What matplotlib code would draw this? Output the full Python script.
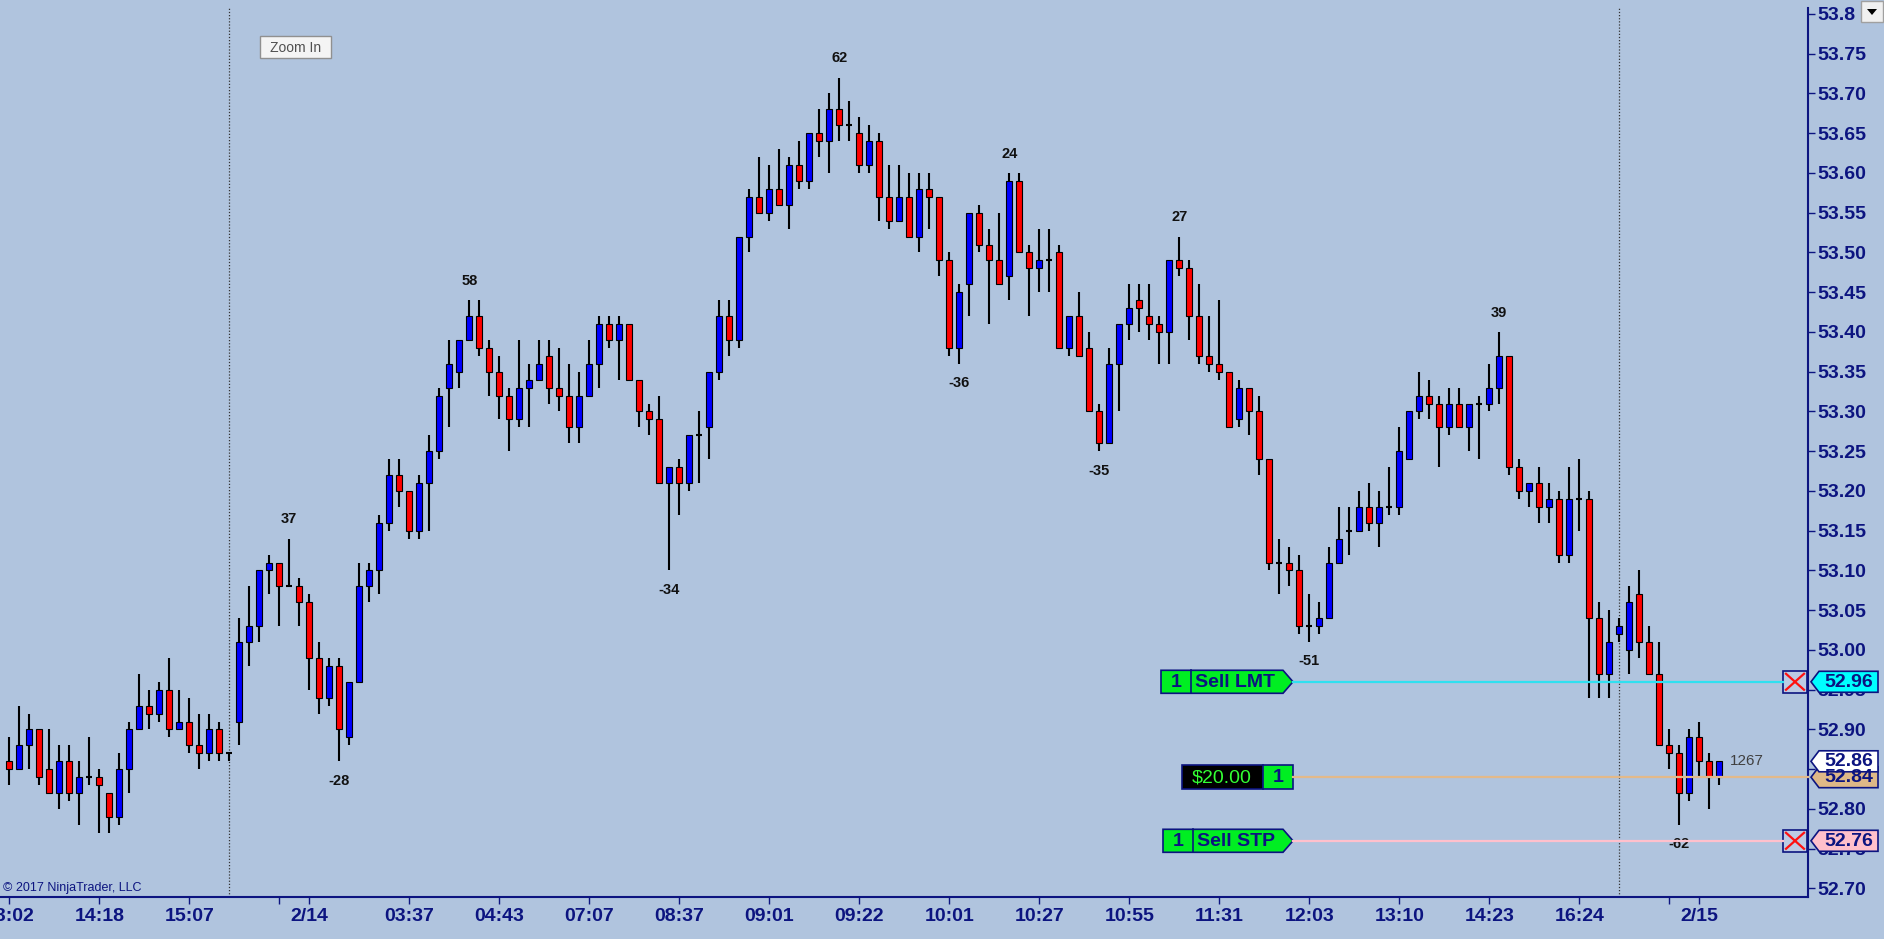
import numpy as np
import matplotlib
matplotlib.use("Agg")
import matplotlib.pyplot as plt
from matplotlib.patches import Polygon, Rectangle

plt.rcParams['font.family'] = ['Liberation Sans', 'DejaVu Sans']

# OHLC per bar (bar 1 .. 172)
opens = [52.86, 52.85, 52.88, 52.90, 52.85, 52.82, 52.86, 52.82, 52.84, 52.84,
         52.82, 52.79, 52.85, 52.90, 52.93, 52.92, 52.95, 52.90, 52.91, 52.88,
         52.87, 52.90, 52.87, 52.91, 53.01, 53.03, 53.10, 53.11, 53.08, 53.08,
         53.06, 52.99, 52.94, 52.98, 52.89, 52.96, 53.08, 53.10, 53.16, 53.22,
         53.20, 53.15, 53.21, 53.25, 53.33, 53.35, 53.39, 53.42, 53.38, 53.35,
         53.32, 53.29, 53.33, 53.34, 53.37, 53.33, 53.32, 53.28, 53.32, 53.36,
         53.41, 53.39, 53.41, 53.34, 53.30, 53.29, 53.21, 53.23, 53.21, 53.27,
         53.28, 53.35, 53.42, 53.39, 53.52, 53.57, 53.55, 53.58, 53.56, 53.61,
         53.59, 53.65, 53.64, 53.68, 53.66, 53.65, 53.61, 53.64, 53.57, 53.54,
         53.57, 53.52, 53.58, 53.57, 53.49, 53.38, 53.46, 53.55, 53.51, 53.49,
         53.47, 53.59, 53.50, 53.48, 53.49, 53.50, 53.38, 53.42, 53.38, 53.30,
         53.26, 53.36, 53.41, 53.44, 53.42, 53.41, 53.40, 53.49, 53.48, 53.42,
         53.37, 53.36, 53.35, 53.29, 53.33, 53.30, 53.24, 53.11, 53.11, 53.10,
         53.03, 53.03, 53.04, 53.11, 53.15, 53.15, 53.18, 53.16, 53.18, 53.18,
         53.24, 53.30, 53.32, 53.31, 53.28, 53.31, 53.28, 53.31, 53.31, 53.33,
         53.37, 53.23, 53.20, 53.21, 53.18, 53.19, 53.12, 53.19, 53.19, 53.04,
         52.97, 53.02, 53.00, 53.07, 53.01, 52.97, 52.88, 52.87, 52.82, 52.89,
         52.86, 52.84]
highs = [52.89, 52.93, 52.92, 52.90, 52.90, 52.88, 52.88, 52.86, 52.89, 52.85,
         52.82, 52.87, 52.91, 52.97, 52.95, 52.96, 52.99, 52.95, 52.94, 52.92,
         52.92, 52.91, 52.87, 53.04, 53.08, 53.10, 53.12, 53.11, 53.14, 53.09,
         53.07, 53.01, 52.99, 52.99, 52.96, 53.11, 53.11, 53.17, 53.24, 53.24,
         53.20, 53.22, 53.27, 53.33, 53.39, 53.39, 53.44, 53.44, 53.39, 53.37,
         53.33, 53.39, 53.36, 53.39, 53.39, 53.38, 53.36, 53.35, 53.39, 53.42,
         53.42, 53.42, 53.41, 53.34, 53.31, 53.32, 53.23, 53.24, 53.27, 53.30,
         53.35, 53.44, 53.44, 53.52, 53.58, 53.62, 53.61, 53.63, 53.62, 53.64,
         53.65, 53.68, 53.70, 53.72, 53.69, 53.67, 53.66, 53.65, 53.61, 53.61,
         53.60, 53.60, 53.60, 53.57, 53.50, 53.46, 53.55, 53.56, 53.53, 53.55,
         53.60, 53.60, 53.51, 53.53, 53.53, 53.51, 53.42, 53.45, 53.40, 53.31,
         53.38, 53.41, 53.46, 53.46, 53.46, 53.42, 53.49, 53.52, 53.49, 53.46,
         53.42, 53.44, 53.35, 53.34, 53.33, 53.32, 53.24, 53.14, 53.13, 53.12,
         53.07, 53.06, 53.13, 53.18, 53.18, 53.20, 53.21, 53.20, 53.23, 53.28,
         53.30, 53.35, 53.34, 53.32, 53.33, 53.33, 53.31, 53.32, 53.36, 53.40,
         53.37, 53.24, 53.21, 53.23, 53.21, 53.20, 53.23, 53.24, 53.20, 53.06,
         53.05, 53.04, 53.08, 53.10, 53.03, 53.01, 52.90, 52.88, 52.90, 52.91,
         52.87, 52.86]
lows = [52.83, 52.85, 52.85, 52.83, 52.82, 52.80, 52.81, 52.78, 52.83, 52.77,
        52.77, 52.78, 52.82, 52.90, 52.90, 52.91, 52.89, 52.90, 52.87, 52.85,
        52.86, 52.86, 52.86, 52.88, 52.98, 53.01, 53.07, 53.03, 53.08, 53.03,
        52.95, 52.92, 52.93, 52.86, 52.88, 52.96, 53.06, 53.07, 53.15, 53.18,
        53.14, 53.14, 53.15, 53.24, 53.28, 53.33, 53.39, 53.37, 53.32, 53.29,
        53.25, 53.28, 53.28, 53.34, 53.31, 53.30, 53.26, 53.26, 53.32, 53.33,
        53.38, 53.34, 53.34, 53.28, 53.27, 53.21, 53.10, 53.17, 53.20, 53.21,
        53.24, 53.34, 53.37, 53.38, 53.50, 53.55, 53.54, 53.56, 53.53, 53.58,
        53.58, 53.62, 53.60, 53.64, 53.64, 53.60, 53.60, 53.54, 53.53, 53.54,
        53.52, 53.50, 53.53, 53.47, 53.37, 53.36, 53.42, 53.50, 53.41, 53.46,
        53.44, 53.50, 53.42, 53.45, 53.45, 53.38, 53.37, 53.37, 53.30, 53.25,
        53.26, 53.30, 53.39, 53.40, 53.39, 53.36, 53.36, 53.47, 53.39, 53.36,
        53.35, 53.34, 53.28, 53.28, 53.27, 53.22, 53.10, 53.07, 53.08, 53.02,
        53.01, 53.02, 53.04, 53.11, 53.12, 53.15, 53.15, 53.13, 53.17, 53.17,
        53.24, 53.29, 53.29, 53.23, 53.27, 53.28, 53.25, 53.24, 53.30, 53.31,
        53.22, 53.19, 53.18, 53.16, 53.16, 53.11, 53.11, 53.15, 52.94, 52.94,
        52.94, 53.01, 52.97, 52.99, 52.97, 52.88, 52.85, 52.78, 52.81, 52.84,
        52.80, 52.83]
closes = [52.85, 52.88, 52.90, 52.84, 52.82, 52.86, 52.82, 52.84, 52.84, 52.83,
          52.79, 52.85, 52.90, 52.93, 52.92, 52.95, 52.90, 52.91, 52.88, 52.87,
          52.90, 52.87, 52.87, 53.01, 53.03, 53.10, 53.11, 53.08, 53.08, 53.06,
          52.99, 52.94, 52.98, 52.90, 52.96, 53.08, 53.10, 53.16, 53.22, 53.20,
          53.15, 53.21, 53.25, 53.32, 53.36, 53.39, 53.42, 53.38, 53.35, 53.32,
          53.29, 53.33, 53.34, 53.36, 53.33, 53.32, 53.28, 53.32, 53.36, 53.41,
          53.39, 53.41, 53.34, 53.30, 53.29, 53.21, 53.23, 53.21, 53.27, 53.27,
          53.35, 53.42, 53.39, 53.52, 53.57, 53.55, 53.58, 53.56, 53.61, 53.59,
          53.65, 53.64, 53.68, 53.66, 53.66, 53.61, 53.64, 53.57, 53.54, 53.57,
          53.52, 53.58, 53.57, 53.49, 53.38, 53.45, 53.55, 53.51, 53.49, 53.46,
          53.59, 53.50, 53.48, 53.49, 53.49, 53.38, 53.42, 53.37, 53.30, 53.26,
          53.36, 53.41, 53.43, 53.43, 53.41, 53.40, 53.49, 53.48, 53.42, 53.37,
          53.36, 53.35, 53.28, 53.33, 53.30, 53.24, 53.11, 53.11, 53.10, 53.03,
          53.03, 53.04, 53.11, 53.14, 53.15, 53.18, 53.16, 53.18, 53.18, 53.25,
          53.30, 53.32, 53.31, 53.28, 53.31, 53.28, 53.31, 53.31, 53.33, 53.37,
          53.23, 53.20, 53.21, 53.18, 53.19, 53.12, 53.19, 53.19, 53.04, 52.97,
          53.01, 53.03, 53.06, 53.01, 52.97, 52.88, 52.87, 52.82, 52.89, 52.86,
          52.84, 52.86]

# swing high/low labels (bar number, text)
swing_bars = [29, 34, 47, 67, 84, 96, 101, 110, 118, 131, 150, 168]
swing_text = ['37', '-28', '58', '-34', '62', '-36', '24', '-35', '27', '-51', '39', '-62']

# time axis
time_ticks = [1, 10, 19, 28, 31, 41, 50, 59, 68, 77, 86, 95, 104, 113, 122, 131,
              140, 149, 158, 167, 170]
time_labels = ['13:02', '14:18', '15:07', '', '2/14', '03:37', '04:43', '07:07', '08:37',
               '09:01', '09:22', '10:01', '10:27', '10:55', '11:31', '12:03', '13:10',
               '14:23', '16:24', '', '2/15']
session_breaks = [23, 162]
price_ticks = [52.70, 52.75, 52.80, 52.85, 52.90, 52.95, 53.00, 53.05, 53.10, 53.15,
               53.20, 53.25, 53.30, 53.35, 53.40, 53.45, 53.50, 53.55, 53.60, 53.65,
               53.70, 53.75, 53.80]

# orders / markers
limit_price = 52.96
stop_price = 52.76
entry_price = 52.84
last_price = 52.86
pnl_text = '$20.00'
qty = 1
tick_count = 1267

BG = '#b0c4de'
NAVY = '#0c1480'
W, H = 1884, 939

fig = plt.figure(figsize=(W / 100, H / 100), dpi=100, facecolor=BG)
ax = fig.add_axes([0, (H - 897) / H, 1808 / W, (897 - 8) / H])
ax.set_facecolor(BG)
ax.set_xlim(0.07, 180.87)
ax.set_ylim(52.6893, 53.8075)

o = np.array(opens); h = np.array(highs); l = np.array(lows); c = np.array(closes)
idx = np.arange(1, len(o) + 1)
up = c > o + 1e-9
dn = c < o - 1e-9
eq = ~(up | dn)

ax.vlines(idx, l, h, color='black', lw=1.5, zorder=2)
ax.bar(idx[up], (c - o)[up], bottom=o[up], width=0.58, color='#0000ff',
       edgecolor='black', lw=0.8, zorder=3)
ax.bar(idx[dn], (o - c)[dn], bottom=c[dn], width=0.58, color='#ff0000',
       edgecolor='black', lw=0.8, zorder=3)
ax.hlines(c[eq], idx[eq] - 0.3, idx[eq] + 0.3, color='black', lw=1.5, zorder=3)

for b, t in zip(swing_bars, swing_text):
    if t.startswith('-'):
        ax.annotate(t, (b, l[b - 1]), xytext=(0, -14), textcoords='offset points',
                    ha='center', va='center', fontsize=10.5, fontweight='bold', color='#111111')
    else:
        ax.annotate(t, (b, h[b - 1]), xytext=(0, 14), textcoords='offset points',
                    ha='center', va='center', fontsize=10.5, fontweight='bold', color='#111111')

for sb in session_breaks:
    ax.axvline(sb, color='#333333', lw=0.9, ls=(0, (1, 1.5)), zorder=1)

# axes styling
ax.spines['top'].set_visible(False)
ax.spines['left'].set_visible(False)
for s in ('bottom', 'right'):
    ax.spines[s].set_color(NAVY)
    ax.spines[s].set_linewidth(1.5)
ax.yaxis.tick_right()
ax.set_yticks(price_ticks)
ax.set_yticklabels(['53.8' if p == 53.80 else f'{p:.2f}' for p in price_ticks])
ax.set_xticks(time_ticks)
ax.set_xticklabels(time_labels)
ax.tick_params(axis='y', direction='out', length=5, width=1, color=NAVY,
               labelcolor=NAVY, labelsize=14, pad=2)
ax.tick_params(axis='x', direction='out', length=5, width=1, color=NAVY,
               labelcolor=NAVY, labelsize=14, pad=3)
for tl in ax.get_xticklabels() + ax.get_yticklabels():
    tl.set_fontweight('bold')

# overlay in pixel coordinates for the chart-trader widgets
ui = fig.add_axes([0, 0, 1, 1], zorder=5)
ui.set_xlim(0, W); ui.set_ylim(H, 0); ui.axis('off'); ui.patch.set_visible(False)


def py(price):
    return H - ax.transData.transform((1, price))[1]


def order_tag(y, left, split, qty_txt, label):
    pts = [(left, y - 11.5), (1283, y - 11.5), (1293, y), (1283, y + 11.5), (left, y + 11.5)]
    ui.add_patch(Polygon(pts, closed=True, facecolor='#00ee22', edgecolor=NAVY, lw=1.2))
    ui.plot([split, split], [y - 11.5, y + 11.5], color=NAVY, lw=1.2)
    ui.text((left + split) / 2, y + 0.5, qty_txt, ha='center', va='center', fontsize=14,
            fontweight='bold', color=NAVY)
    ui.text(split + 4, y + 0.5, label, ha='left', va='center', fontsize=14,
            fontweight='bold', color=NAVY)


def axis_tag(y, txt, fc):
    pts = [(1811, y), (1819, y - 10.5), (1878, y - 10.5), (1878, y + 10.5), (1819, y + 10.5)]
    ui.add_patch(Polygon(pts, closed=True, facecolor=fc, edgecolor=NAVY, lw=1.2, zorder=6))
    ui.text(1849, y + 0.5, txt, ha='center', va='center', fontsize=14, fontweight='bold',
            color=NAVY, zorder=7)


def cancel_box(y):
    ui.add_patch(Rectangle((1783, y - 11), 24, 22, facecolor='#bccbe4', edgecolor=NAVY, lw=1.2))
    ui.plot([1786, 1804], [y - 8, y + 8], color='#ff1010', lw=1.6)
    ui.plot([1786, 1804], [y + 8, y - 8], color='#ff1010', lw=1.6)


yl, ye, ys, yc = py(limit_price), py(entry_price), py(stop_price), py(last_price)
ui.plot([1293, 1783], [yl, yl], color='#30e0f0', lw=1.6)
ui.plot([1293, 1808], [ye, ye], color='#e2b98a', lw=1.6)
ui.plot([1293, 1783], [ys, ys], color='#ffc0cc', lw=1.6)

order_tag(yl, 1161, 1191, str(qty), 'Sell LMT')
order_tag(ys, 1163, 1193, str(qty), 'Sell STP')
ui.add_patch(Rectangle((1182, ye - 12), 81, 24, facecolor='black', edgecolor=NAVY, lw=1.2))
ui.add_patch(Rectangle((1263, ye - 12), 30, 24, facecolor='#00ee22', edgecolor=NAVY, lw=1.2))
ui.text(1222, ye + 0.5, pnl_text, ha='center', va='center', fontsize=14, color='#33ff33')
ui.text(1278, ye + 0.5, str(qty), ha='center', va='center', fontsize=14,
        fontweight='bold', color=NAVY)

cancel_box(yl)
cancel_box(ys)
axis_tag(yl, f'{limit_price:.2f}', '#00ffff')
axis_tag(ye, f'{entry_price:.2f}', '#deb887')
axis_tag(yc, f'{last_price:.2f}', 'white')
axis_tag(ys, f'{stop_price:.2f}', '#ffc0cb')

ui.text(1747, yc, str(tick_count), ha='center', va='center', fontsize=11, color='#404040')

# zoom button, copyright, dropdown
ui.add_patch(Rectangle((260, 36), 71, 22, facecolor='#f4f4f4', edgecolor='#909090', lw=1))
ui.text(295.5, 47.5, 'Zoom In', ha='center', va='center', fontsize=10, color='#505050')
ui.text(3, 888, '\u00a9 2017 NinjaTrader, LLC', ha='left', va='center', fontsize=9, color=NAVY)
ui.add_patch(Rectangle((1861, 1), 22, 21, facecolor='#f0f0f0', edgecolor='#a0a0a0', lw=1))
ui.add_patch(Polygon([(1867, 9), (1877, 9), (1872, 15)], closed=True, facecolor='black'))

fig.savefig('out.png', dpi=100, facecolor=BG)
